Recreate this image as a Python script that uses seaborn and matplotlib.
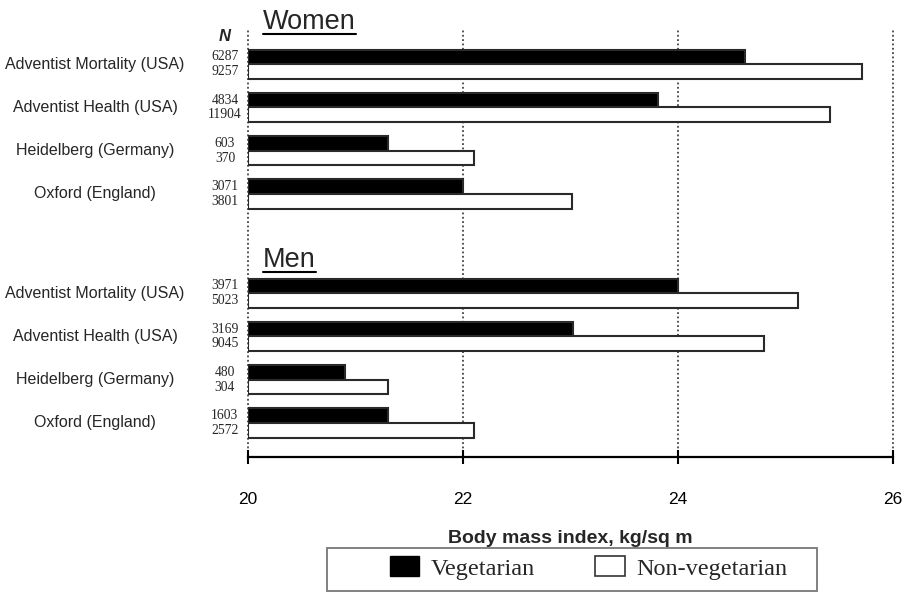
import matplotlib
matplotlib.use("Agg")
import matplotlib.pyplot as plt
import matplotlib.transforms as mtransforms
from matplotlib.patches import Patch, Rectangle
from matplotlib.lines import Line2D
import pandas as pd
import seaborn as sns


STUDIES = ["Adventist Mortality (USA)", "Adventist Health (USA)",
           "Heidelberg (Germany)", "Oxford (England)"]
SEXES = ["Women", "Men"]
DIETS = ["Vegetarian", "Non-vegetarian"]

WOMEN_VEG = [24.62, 23.81, 21.30, 22.00]
WOMEN_NONVEG = [25.71, 25.41, 22.10, 23.01]
MEN_VEG = [24.00, 23.02, 20.90, 21.30]
MEN_NONVEG = [25.12, 24.80, 21.30, 22.10]

WOMEN_N_VEG = [6287, 4834, 603, 3071]
WOMEN_N_NONVEG = [9257, 11904, 370, 3801]
MEN_N_VEG = [3971, 3169, 480, 1603]
MEN_N_NONVEG = [5023, 9045, 304, 2572]

XTICKS = [20, 22, 24, 26]

SANS = "Liberation Sans"
SERIF = "Liberation Serif"
BAR_WIDTH = 0.68
GROUP_GAP = 2.3


def build_frame() -> pd.DataFrame:
    rows = []
    values = {"Women": (WOMEN_VEG, WOMEN_NONVEG, WOMEN_N_VEG, WOMEN_N_NONVEG),
              "Men": (MEN_VEG, MEN_NONVEG, MEN_N_VEG, MEN_N_NONVEG)}
    for s, sex in enumerate(SEXES):
        veg, nonveg, nveg, nnonveg = values[sex]
        for i, study in enumerate(STUDIES):
            pos = round(i + s * (len(STUDIES) - 1 + GROUP_GAP), 2)
            rows.append(dict(sex=sex, study=study, diet=DIETS[0], bmi=veg[i], n=nveg[i], pos=pos))
            rows.append(dict(sex=sex, study=study, diet=DIETS[1], bmi=nonveg[i], n=nnonveg[i], pos=pos))
    return pd.DataFrame(rows)


def main():
    sns.set_theme(style="white")
    plt.rcParams["font.family"] = [SANS, "DejaVu Sans"]
    df = build_frame()

    fig = plt.figure(figsize=(9.09, 5.92), dpi=100)
    ax = fig.add_axes([0.2728, 0.228, 0.7096, 0.7247])

    sns.barplot(data=df, x="bmi", y="pos", hue="diet", hue_order=DIETS,
                orient="y", native_scale=True, width=BAR_WIDTH, gap=0,
                palette={"Vegetarian": "black", "Non-vegetarian": "white"},
                edgecolor="#2a2a2a", linewidth=1.5, errorbar=None,
                legend=False, zorder=3, ax=ax)

    # bars start at the left edge of the axis (20), not at zero
    for p in ax.patches:
        w = p.get_width()
        p.set_x(XTICKS[0])
        p.set_width(w - XTICKS[0])

    ax.set_xlim(XTICKS[0], XTICKS[-1])
    ax.set_ylim(df["pos"].max() + 0.79, -0.84)
    ax.set_xticks(XTICKS)
    ax.set_yticks([])
    ax.set_xlabel("Body mass index, kg/sq m", fontsize=14, fontweight="bold")
    ax.xaxis.set_label_coords(0.5, -0.17)
    ax.set_ylabel("")
    ax.grid(axis="x", linestyle=(0, (1, 1.4)), color="#444444", linewidth=1.3)
    ax.grid(axis="y", visible=False)
    ax.set_axisbelow(True)
    for line in ax.get_xgridlines():
        line.set_clip_on(False)
    for side in ["top", "left", "right"]:
        ax.spines[side].set_visible(False)
    ax.spines["bottom"].set_color("black")
    ax.spines["bottom"].set_linewidth(1.6)
    ax.tick_params(axis="x", direction="inout", length=10, width=1.5,
                   colors="black", pad=20, labelsize=12.5, bottom=True)

    trans = mtransforms.blended_transform_factory(ax.transAxes, ax.transData)
    off = BAR_WIDTH / 4
    for _, grp in df.groupby(["sex", "study"], sort=False):
        pos = grp["pos"].iloc[0]
        ax.text(-0.237, pos, grp["study"].iloc[0], transform=trans,
                ha="center", va="center", fontsize=11.5, clip_on=False)
        for _, r in grp.iterrows():
            dy = -off if r["diet"] == DIETS[0] else off
            ax.text(-0.0357, pos + dy, str(r["n"]), transform=trans,
                    ha="center", va="center", fontsize=9.8, family=SERIF,
                    clip_on=False)

    ax.text(-0.0357, -0.65, "N", transform=trans, ha="center", va="center",
            fontsize=12, fontweight="bold", fontstyle="italic", clip_on=False)

    titles = []
    for s, sex in enumerate(SEXES):
        first = df.loc[df["sex"] == sex, "pos"].min()
        titles.append(ax.text(0.023, first - 0.99 + s * 0.21, sex, transform=trans,
                              ha="left", va="center", fontsize=19.5, clip_on=False))

    # legend, framed in a plain box
    handles = [Patch(facecolor="black", edgecolor="black"),
               Patch(facecolor="white", edgecolor="#333333", linewidth=1.2)]
    fig.legend(handles=handles, labels=DIETS, ncol=2, loc="center",
               bbox_to_anchor=(588.5 / 909, 1 - 568 / 592), frameon=False,
               prop=dict(family=SERIF, size=17.5), handlelength=1.23,
               handleheight=0.9, handletextpad=0.45, columnspacing=2.5)
    fig.add_artist(Rectangle((327 / 909, 1 - 591 / 592), 490 / 909, 43 / 592,
                             transform=fig.transFigure, fill=False,
                             edgecolor="#777777", linewidth=1.3))

    # underline the panel titles
    fig.canvas.draw()
    renderer = fig.canvas.get_renderer()
    for t in titles:
        bb = t.get_window_extent(renderer).transformed(fig.transFigure.inverted())
        fig.add_artist(Line2D([bb.x0, bb.x1], [bb.y0 + 0.001, bb.y0 + 0.001],
                              transform=fig.transFigure, color="black", linewidth=1.5))

    fig.savefig("out.png", dpi=100)


if __name__ == "__main__":
    main()
